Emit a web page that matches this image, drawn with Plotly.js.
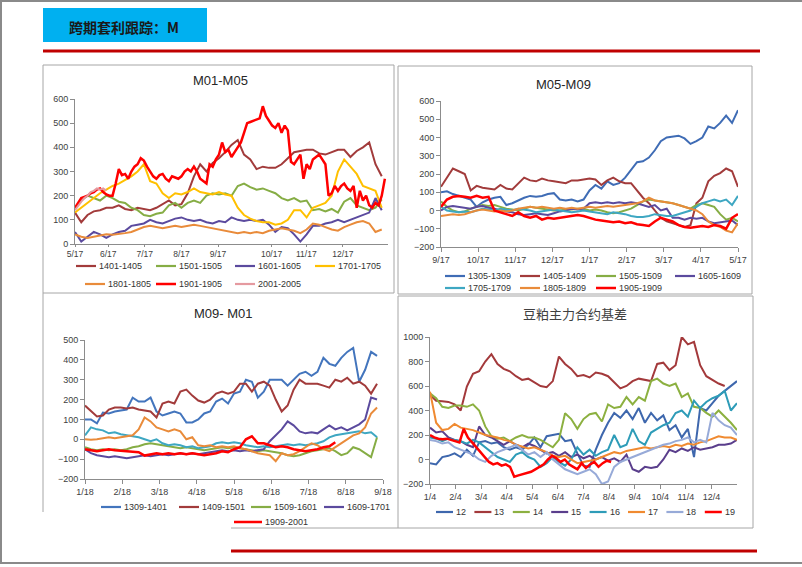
<!DOCTYPE html>
<html><head><meta charset="utf-8">
<script src="https://cdn.plot.ly/plotly-3.0.1.min.js"></script>
<style>html,body{margin:0;padding:0;background:#fff}#chart{width:802px;height:567px}</style>
</head><body><div id="chart"></div>
<script>
// ================= DATA =================
// Panel 1: M01-M05
const p1Ticks = ['5/17','6/17','7/17','8/17','9/17','10/17','11/17','12/17'];
const p1Names = ['1401-1405','1501-1505','1601-1605','1701-1705','1801-1805','1901-1905','2001-2005'];
const p1_1401 = [130,90,120,135,140,150,150,160,145,140,150,145,140,150,165,180,160,165,210,280,330,300,335,355,380,410,430,370,350,310,320,315,315,330,355,380,385,390,390,375,370,380,390,390,360,385,400,420,330,280];
const p1_1501 = [150,180,200,190,180,200,190,175,170,150,140,120,115,125,130,160,170,150,170,180,170,200,210,205,210,200,240,250,235,225,230,220,210,190,180,190,175,180,140,145,135,145,130,175,190,160,150,140,150,185];
const p1_1601 = [50,10,30,50,40,25,40,50,55,75,80,85,100,90,85,95,105,110,100,95,100,90,85,95,90,110,100,95,100,95,100,80,50,70,65,40,10,40,75,75,85,90,100,90,100,110,120,130,190,140];
const p1_1701 = [130,150,170,190,210,225,240,250,265,280,300,330,260,250,210,190,210,205,215,230,215,210,205,215,205,200,150,120,105,95,90,90,80,85,100,140,140,110,150,160,170,200,300,350,320,290,240,230,220,150];
const p1_1801 = [40,30,25,30,35,40,38,40,45,50,60,70,75,70,65,70,75,70,75,80,75,70,65,60,55,50,45,50,45,50,45,55,60,65,60,55,45,60,85,80,70,60,55,70,80,90,95,85,50,60];
const p1_1901 = [150,170,190,195,200,210,215,225,230,215,205,200,200,250,310,285,290,270,300,320,330,355,345,320,300,280,270,285,290,270,260,280,275,270,280,300,310,300,320,300,270,260,250,330,320,350,370,420,380,390,360,380,400,420,460,500,505,510,515,520,570,530,510,490,480,500,460,490,470,340,330,350,370,270,330,310,350,360,370,350,330,200,210,240,220,240,250,230,220,240,150,220,180,200,160,150,170,160,200,270];
const p1_2001 = [140,160,175,190,200,215,220,230,225,230,220];

// Panel 2: M05-M09
const p2Ticks = ['9/17','10/17','11/17','12/17','1/17','2/17','3/17','4/17','5/17'];
const p2Names = ['1305-1309','1405-1409','1505-1509','1605-1609','1705-1709','1805-1809','1905-1909'];
const p2_1305 = [100,105,90,80,70,60,20,45,60,70,75,30,40,55,70,80,75,80,90,95,60,55,60,50,60,110,140,120,160,140,150,180,220,265,270,290,330,380,400,405,410,395,365,380,400,460,450,480,520,480,550];
const p2_1405 = [130,180,230,215,200,110,135,125,120,115,140,120,115,150,180,165,160,175,165,160,155,150,165,165,170,175,170,140,165,180,160,150,150,110,70,40,0,-40,-60,-70,-80,-90,-80,40,70,160,190,205,230,215,130];
const p2_1505 = [50,20,0,-10,-5,10,20,30,25,30,20,10,5,0,10,20,15,10,5,0,0,5,5,10,10,0,5,0,-10,-15,-10,0,10,30,50,60,55,50,45,40,30,20,10,30,40,30,20,-20,-50,-40,-60];
const p2_1605 = [0,20,25,20,15,10,20,25,15,10,0,-5,-10,-20,-25,-20,-15,-20,-25,-15,-5,0,10,5,10,40,45,40,45,40,45,40,45,40,30,20,30,0,10,-40,-40,-50,-40,-45,-40,-60,-70,-65,-60,-55,-80];
const p2_1705 = [20,0,-5,-10,-5,-10,0,10,5,0,10,5,0,10,5,0,-10,-5,0,5,0,-5,-10,-5,0,-5,-10,-15,-20,-10,-15,-20,-30,-35,-35,-30,-20,-25,-30,-30,-20,-10,0,20,40,50,60,50,60,30,80];
const p2_1805 = [-30,-25,-20,-25,-20,-10,0,5,0,-5,0,-5,0,10,15,20,15,20,15,10,15,10,15,10,15,20,15,20,25,20,25,30,35,40,50,70,55,50,45,40,30,20,10,0,-20,-60,-80,-90,-110,-120,-70];
const p2_1905 = [20,60,75,80,75,70,80,70,75,0,-10,-20,-30,-10,-30,-40,-30,-50,-40,-45,-40,-35,-30,-25,-30,-40,-50,-55,-60,-65,-60,-70,-65,-75,-80,-85,-60,-40,-50,-60,-80,-90,-95,-90,-85,-90,-80,-85,-100,-40,-20];

// Panel 3: M09-M01
const p3Ticks = ['1/18','2/18','3/18','4/18','5/18','6/18','7/18','8/18','9/18'];
const p3Names = ['1309-1401','1409-1501','1509-1601','1609-1701','1709-1801','1809-1901','1909-2001'];
const p3_1309 = [100,100,80,135,130,140,145,150,210,190,190,210,140,120,130,140,130,85,85,100,130,140,190,205,180,230,240,300,290,210,240,300,300,300,270,300,330,340,320,340,410,380,370,410,440,460,290,350,440,420];
const p3_1409 = [170,140,115,120,150,160,160,155,160,150,145,140,110,180,190,180,240,250,220,195,185,200,230,240,230,240,280,280,240,280,290,270,200,140,170,250,300,280,280,280,270,260,300,290,310,280,290,270,230,280];
const p3_1509 = [-40,-50,-55,-50,-55,-50,-55,-50,-40,-35,-25,-20,-25,-30,-35,-40,-45,-40,-45,-50,-55,-50,-45,-40,-45,-40,-45,-50,-55,-60,-55,-60,-65,-70,-80,-85,-80,-70,-60,-55,-50,-45,-60,-80,-70,-40,-50,-70,-90,10];
const p3_1609 = [-50,-70,-80,-85,-90,-85,-90,-95,-90,-85,-80,-85,-80,-75,-80,-75,-70,-75,-70,-75,-70,-65,-60,-55,-60,-55,-60,-55,-60,-55,-50,-10,20,50,90,70,40,30,35,30,50,70,50,60,45,60,75,100,210,200];
const p3_1709 = [20,60,50,45,30,35,25,20,15,10,0,-10,0,-20,-30,-25,-30,-40,-35,-45,-40,-35,-20,-15,-20,-15,-20,-30,-35,-40,-35,-40,-35,-30,-25,-30,-25,-30,-25,-20,-10,10,20,25,30,35,40,30,35,10];
const p3_1809 = [0,-2,0,5,10,5,10,15,20,50,110,90,60,50,40,50,40,0,10,-30,-35,-30,-40,-35,-40,-35,-45,-50,-60,-70,-75,-80,-110,-70,-80,-75,-60,-40,-20,-30,-50,-60,-40,-20,0,20,30,60,130,160];
const p3_1909 = [-50,-55,-60,-55,-50,-55,-58,-60,-62,-65,-82,-75,-70,-75,-70,-75,-70,-75,-70,-75,-80,-75,-70,-60,-65,-50,-40,0,15,-20,-20,-30,-40,-35,-40,-50,-55,-60,-55,-50,-40,-35,-15];

// Panel 4: 豆粕主力合约基差
const p4Ticks = ['1/4','2/4','3/4','4/4','5/4','6/4','7/4','8/4','9/4','10/4','11/4','12/4'];
const p4Names = ['12','13','14','15','16','17','18','19'];
const p4_12 = [-30,-40,20,30,50,20,80,30,140,150,130,140,100,80,100,80,120,180,100,190,200,210,150,160,50,-50,-60,80,200,300,380,340,400,330,420,300,380,320,360,240,280,180,250,20,420,400,460,520,560,600,640];
const p4_13 = [527,480,475,470,450,400,595,700,720,800,860,780,740,720,680,650,660,630,600,590,640,840,780,740,680,690,670,710,700,680,630,580,600,640,660,650,640,780,790,730,770,1000,940,960,770,680,650,620,600];
const p4_14 = [540,500,430,420,440,440,430,450,400,270,190,170,180,150,180,200,180,180,160,130,100,160,377,330,250,330,370,380,310,450,420,430,510,450,510,480,640,660,620,600,620,510,540,430,420,380,350,400,350,300,240];
const p4_15 = [260,220,230,180,160,150,120,100,270,200,180,150,120,150,120,100,130,110,80,50,60,30,60,20,40,10,30,0,20,-10,10,-20,40,-80,-100,-60,-70,-60,0,80,60,90,70,100,80,90,100,120,120,130,160];
const p4_16 = [180,170,150,170,160,150,130,160,140,100,60,20,0,-20,40,60,20,0,-60,-30,20,-20,-50,0,100,40,80,30,60,80,200,100,120,250,150,120,220,250,280,300,380,400,350,480,420,470,500,520,560,400,460];
const p4_17 = [554,300,240,250,290,260,250,240,220,200,190,180,160,150,120,105,90,100,80,60,30,20,30,0,-30,-20,-10,0,20,40,60,50,70,80,90,100,90,100,110,100,120,110,130,120,140,150,170,190,180,180,160];
const p4_18 = [160,150,130,140,100,80,60,40,0,-20,30,60,80,100,120,80,40,60,20,60,0,-40,-80,-100,-120,-100,-80,-120,-200,-180,-60,-20,0,20,40,60,80,100,120,130,150,160,180,140,160,140,380,320,280,260,200];
const p4_19 = [200,180,170,165,170,160,150,140,250,180,140,100,60,20,-20,-40,-30,-50,-40,-60,-140,-130,-120,-110,-100,-80,-60,-40,0,30,10,-20,0,-40,-60,-80,-30,-70,-40,-20,-60,-30,-10,-20];

// ================= STYLE / LAYOUT =================
const W = 802, H = 567;
const px = v => v / W, py = v => 1 - v / H;
const FONT = 'Liberation Sans, Arial, sans-serif';
const CJK = 'Noto Sans CJK SC, sans-serif';

const C = {dred:'#A23B3B', green:'#86AD45', purple:'#5B4A9E', gold:'#FFC000', orange:'#E98B3A',
           red:'#FF0000', pink:'#E59AA0', blue:'#3F6CB5', teal:'#3EA7C2', lav:'#97AAD8'};

// series style + legend slot (text x, row y) in page pixels
const panel1 = [
  {v:p1_1401, c:C.dred, step:2, lx:98, ly:266}, {v:p1_1501, c:C.green, step:2, lx:178, ly:266},
  {v:p1_1601, c:C.purple, step:2, lx:257, ly:266}, {v:p1_1701, c:C.gold, step:2, lx:337, ly:266},
  {v:p1_1801, c:C.orange, step:2, lx:107, ly:284}, {v:p1_1901, c:C.red, step:1, w:2.5, lx:178, ly:284},
  {v:p1_2001, c:C.pink, step:1, lx:257, ly:284}];
const panel2 = [
  {v:p2_1305, c:C.blue, lx:467, ly:276}, {v:p2_1405, c:C.dred, lx:542, ly:276},
  {v:p2_1505, c:C.green, lx:618, ly:276}, {v:p2_1605, c:C.purple, lx:697, ly:276},
  {v:p2_1705, c:C.teal, lx:467, ly:288}, {v:p2_1805, c:C.orange, lx:542, ly:288},
  {v:p2_1905, c:C.red, w:2.5, lx:618, ly:288}];
const panel3 = [
  {v:p3_1309, c:'#4375BD', lx:123, ly:507}, {v:p3_1409, c:C.dred, lx:201, ly:507},
  {v:p3_1509, c:C.green, lx:273, ly:507}, {v:p3_1609, c:C.purple, lx:346, ly:507},
  {v:p3_1709, c:C.teal}, {v:p3_1809, c:C.orange},
  {v:p3_1909, c:C.red, w:2.5, lx:264, ly:522, ll:28}];
const panel4 = [
  {v:p4_12, c:'#3E67AD'}, {v:p4_13, c:'#A3393B'}, {v:p4_14, c:'#8CB040'}, {v:p4_15, c:'#5A3E8C'},
  {v:p4_16, c:'#2E9CB8'}, {v:p4_17, c:'#F08A30'}, {v:p4_18, c:C.lav}, {v:p4_19, c:C.red, w:2.5, step:59/43}];
panel4.forEach((s, k) => { s.lx = 455 + k * 38.4; s.ly = 512; s.ll = 17; });

const traces = [];
const shapes = [];
const annotations = [];
function addPanel(list, names, xa, ya) {
  list.forEach((s, k) => {
    const st = s.step || 2;
    traces.push({
      type:'scatter', mode:'lines', name:names[k],
      x: s.v.map((_, i) => i * st), y: s.v,
      xaxis:xa, yaxis:ya, line:{color:s.c, width:s.w || 2},
      showlegend:false, hoverinfo:'skip'
    });
    if (s.lx !== undefined) {
      const len = s.ll || 20;
      shapes.push({type:'line', xref:'paper', yref:'paper', x0:px(s.lx - len - 2), x1:px(s.lx - 2),
        y0:py(s.ly), y1:py(s.ly), line:{color:s.c, width:s.w ? 2.5 : 2.2}});
      annotations.push({xref:'paper', yref:'paper', x:px(s.lx), y:py(s.ly), text:names[k], showarrow:false,
        xanchor:'left', yanchor:'middle', borderpad:0, font:{family:FONT, size:9, color:'#333'}});
    }
  });
}
addPanel(panel1, p1Names, 'x', 'y');
addPanel(panel2, p2Names, 'x2', 'y2');
addPanel(panel3, p3Names, 'x3', 'y3');
addPanel(panel4, p4Names, 'x4', 'y4');

const axBase = {showgrid:false, zeroline:false, showline:true, linecolor:'#8C8C8C', linewidth:1,
  ticks:'outside', ticklen:4, tickcolor:'#8C8C8C', fixedrange:true,
  tickfont:{family:FONT, size:9, color:'#404040'}};
function xax(l, r, anchor, labels, pos, extra) {
  return Object.assign({}, axBase, {domain:[px(l), px(r)], anchor, range:[0,100],
    tickmode:'array', tickvals:pos, ticktext:labels}, extra || {});
}
function yax(bot, top, anchor, r, dt) {
  return Object.assign({}, axBase, {domain:[py(bot), py(top)], anchor, range:r, dtick:dt, tick0:0});
}
const even = (n, span) => Array.from({length:n}, (_, i) => i * span / (n - 1));

const gray = '#A6A6A6';
shapes.push(
  {type:'line', xref:'paper', yref:'paper', x0:0, x1:1, y0:py(1), y1:py(1), line:{color:'#8A8A8A', width:2}},
  {type:'line', xref:'paper', yref:'paper', x0:px(1), x1:px(1), y0:py(0), y1:py(563), line:{color:'#8A8A8A', width:2}},
  {type:'line', xref:'paper', yref:'paper', x0:0, x1:1, y0:py(563), y1:py(563), line:{color:'#8A8A8A', width:2}},
  {type:'rect', xref:'paper', yref:'paper', x0:px(43), x1:px(207), y0:py(42), y1:py(8), fillcolor:'#00B0F0', line:{width:0}},
  {type:'line', xref:'paper', yref:'paper', x0:px(43), x1:px(760), y0:py(51), y1:py(51), line:{color:'#C00000', width:3}},
  {type:'line', xref:'paper', yref:'paper', x0:px(231), x1:px(757), y0:py(551), y1:py(551), line:{color:'#C00000', width:3}},
  {type:'rect', xref:'paper', yref:'paper', x0:px(43), x1:px(394), y0:py(293), y1:py(65), line:{color:gray, width:1}},
  {type:'rect', xref:'paper', yref:'paper', x0:px(398), x1:px(752), y0:py(294), y1:py(66), line:{color:gray, width:1}},
  {type:'line', xref:'paper', yref:'paper', x0:px(43), x1:px(43), y0:py(293), y1:py(512), line:{color:gray, width:1}},
  {type:'rect', xref:'paper', yref:'paper', x0:px(398), x1:px(753), y0:py(528), y1:py(296), line:{color:gray, width:1}},
  {type:'line', xref:'paper', yref:'paper', x0:px(231), x1:px(398), y0:py(528), y1:py(528), line:{color:gray, width:1}}
);

annotations.push(
  {xref:'paper', yref:'paper', x:px(124), y:py(27), text:'<b>跨期套利跟踪：M</b>', showarrow:false,
   xanchor:'center', yanchor:'middle', font:{family:CJK, size:14, color:'#1A1A1A'}},
  {xref:'paper', yref:'paper', x:px(220), y:py(80), text:'M01-M05', showarrow:false, xanchor:'center', yanchor:'middle', font:{family:FONT, size:13, color:'#262626'}},
  {xref:'paper', yref:'paper', x:px(563), y:py(85), text:'M05-M09', showarrow:false, xanchor:'center', yanchor:'middle', font:{family:FONT, size:13, color:'#262626'}},
  {xref:'paper', yref:'paper', x:px(223), y:py(313), text:'M09- M01', showarrow:false, xanchor:'center', yanchor:'middle', font:{family:FONT, size:13, color:'#262626'}},
  {xref:'paper', yref:'paper', x:px(575), y:py(313), text:'豆粕主力合约基差', showarrow:false, xanchor:'center', yanchor:'middle', font:{family:CJK, size:13, color:'#404040'}}
);

const layout = {
  width:W, height:H, margin:{l:0, r:0, t:0, b:0}, paper_bgcolor:'#fff', plot_bgcolor:'rgba(0,0,0,0)',
  showlegend:false,
  xaxis: xax(75, 388, 'y', p1Ticks, [0,10.6,22.3,34.0,45.7,62.8,73.9,85.6],
             {ticklen:2, tickfont:{family:FONT, size:8.5, color:'#404040'}}),
  yaxis: yax(244, 99, 'x', [0,600], 100),
  xaxis2: xax(441, 738, 'y2', p2Ticks, even(9, 100)),
  yaxis2: yax(247, 101, 'x2', [-200,600], 100),
  xaxis3: xax(85, 383, 'y3', p3Ticks, even(9, 100)),
  yaxis3: yax(479, 340, 'x3', [-200,500], 100),
  xaxis4: xax(430, 737, 'y4', p4Ticks, even(13, 100).slice(0, 12)),
  yaxis4: yax(484, 337, 'x4', [-200,1000], 200),
  shapes, annotations
};

Plotly.newPlot('chart', traces, layout, {displayModeBar:false, staticPlot:true});
</script></body></html>
